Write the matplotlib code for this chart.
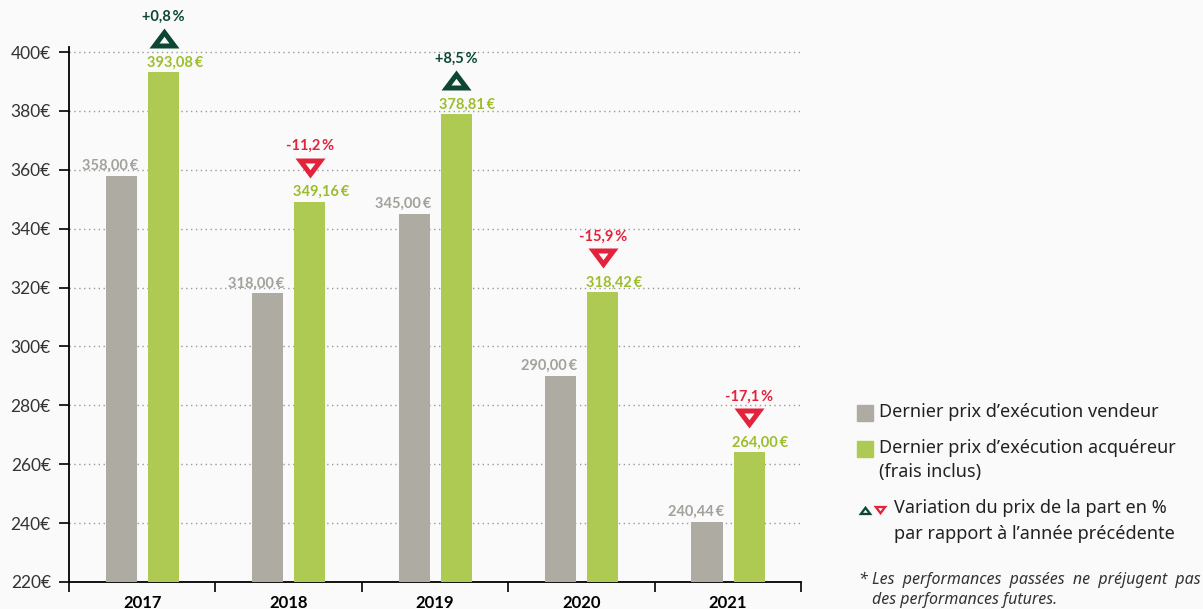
import matplotlib
matplotlib.use('Agg')
from matplotlib import pyplot as plt
from matplotlib.path import Path
from matplotlib.patches import Rectangle
from matplotlib.lines import Line2D
from matplotlib.transforms import offset_copy
import numpy as np

years = ['2017', '2018', '2019', '2020', '2021']
vendeur = [358.00, 318.00, 345.00, 290.00, 240.44]
acquereur = [393.08, 349.16, 378.81, 318.42, 264.00]
variation = [0.8, -11.2, 8.5, -15.9, -17.1]
yticks = [220, 240, 260, 280, 300, 320, 340, 360, 380, 400]

GREY = '#aeaba3'
GREEN = '#afca52'
GREY_TXT = '#a3a19c'
GREEN_TXT = '#9cbd2c'
DARK = '#0d4633'
RED = '#e3223c'
BG = '#fafafa'

plt.rcParams['font.family'] = ['Lato', 'DejaVu Sans']
LEG_FONT = ['Noto Sans', 'DejaVu Sans']


def fmt(v):
  return f'{v:.2f}'.replace('.', ',') + '\u2009€'


def fmt_pct(v):
  s = f'{v:+.1f}'.replace('.', ',')
  return s + '\u2009%'


def tri_marker(up=True):
  # outer triangle with a triangular hole (reversed winding)
  outer = [(-1.5, -1), (1.5, -1), (0, 1), (-1.5, -1)]
  inner = [(-0.5, -0.5), (0, 0.17), (0.5, -0.5), (-0.5, -0.5)]
  verts = outer + inner
  codes = [Path.MOVETO, Path.LINETO, Path.LINETO, Path.CLOSEPOLY] * 2
  if not up:
    verts = [(x, -y) for x, y in verts]
  return Path(verts, codes)


def main():
  fig = plt.figure(figsize=(12.03, 6.09), dpi=100, facecolor=BG)
  ax = fig.add_axes([69 / 1203, 27 / 609, 732 / 1203, 535 / 609])
  ax.set_facecolor(BG)

  x = np.arange(len(years))
  w = 0.212
  ax.bar(x - 0.142, [v - 220 for v in vendeur], w, bottom=220, color=GREY,
         zorder=3)
  ax.bar(x + 0.146, [v - 220 for v in acquereur], w, bottom=220, color=GREEN,
         zorder=3)

  ax.set_xlim(-0.5, 4.5)
  ax.set_ylim(220, 401.7)

  tri_trans = offset_copy(ax.transData, fig=fig, x=0, y=24.5, units='points')
  for i in range(len(years)):
    ax.annotate(fmt(vendeur[i]), (x[i] - 0.142 + w / 2, vendeur[i]),
                xytext=(1, 7), textcoords='offset points', ha='right',
                va='center', color=GREY_TXT, fontsize=10.5, weight='bold')
    ax.annotate(fmt(acquereur[i]), (x[i] + 0.146 - w / 2, acquereur[i]),
                xytext=(-1, 7), textcoords='offset points', ha='left',
                va='center', color=GREEN_TXT, fontsize=10.5, weight='bold')
    up = variation[i] > 0
    col = DARK if up else RED
    ax.plot([x[i] + 0.146], [acquereur[i]], marker=tri_marker(up),
            markersize=21.6, color=col, markeredgewidth=0, clip_on=False,
            zorder=4, transform=tri_trans)
    ax.annotate(fmt_pct(variation[i]), (x[i] + 0.146, acquereur[i]),
                xytext=(0, 40), textcoords='offset points', ha='center',
                va='center', color=col, fontsize=10.5, weight='bold')

  ax.set_yticks(yticks)
  ax.set_yticklabels([f'{t}€' for t in yticks], fontsize=12.5, color='#333333')
  ax.set_xticks(np.arange(-0.5, 5, 1))
  ax.set_xticklabels([])
  ax.set_xticks(x, minor=True)
  ax.set_xticklabels(years, minor=True, fontsize=12, weight='bold')
  ax.tick_params(axis='x', which='minor', length=0, pad=9)
  ax.tick_params(axis='x', which='major', length=7, width=1.2)
  ax.tick_params(axis='y', length=7, width=1.2, pad=6)
  ax.yaxis.grid(True, linestyle=(0, (1, 2.5)), color='#999999', lw=1)
  ax.set_axisbelow(True)
  for s in ['top', 'right']:
    ax.spines[s].set_visible(False)
  for s in ['left', 'bottom']:
    ax.spines[s].set_linewidth(1.3)

  # legend
  def fx(px):
    return px / 1203

  def fy(py):
    return 1 - py / 609

  fig.add_artist(Rectangle((fx(857), fy(421)), 16 / 1203, 16 / 609,
                           transform=fig.transFigure, color=GREY))
  fig.add_artist(Rectangle((fx(857), fy(457)), 16 / 1203, 16 / 609,
                           transform=fig.transFigure, color=GREEN))
  kw = dict(fontsize=13, color='#222222', va='center', ha='left',
            family=LEG_FONT)
  fig.text(fx(879), fy(412), 'Dernier prix d’exécution vendeur', **kw)
  fig.text(fx(879), fy(448), 'Dernier prix d’exécution acquéreur', **kw)
  fig.text(fx(879), fy(472), '(frais inclus)', **kw)
  fig.text(fx(894), fy(508), 'Variation du prix de la part en %', **kw)
  fig.text(fx(894), fy(534), 'par rapport à l’année précédente', **kw)
  fig.add_artist(Line2D([fx(865)], [fy(510)], marker=tri_marker(True),
                        markersize=10, color=DARK, markeredgewidth=0,
                        transform=fig.transFigure))
  fig.add_artist(Line2D([fx(880)], [fy(510)], marker=tri_marker(False),
                        markersize=10, color=RED, markeredgewidth=0,
                        transform=fig.transFigure))
  kw2 = dict(fontsize=11.5, color='#333333', va='center', ha='left',
             style='italic', family=LEG_FONT)
  fig.text(fx(858), fy(580), '*', **kw2)
  fig.text(fx(872), fy(580),
           'Les  performances  passées  ne  préjugent  pas', **kw2)
  fig.text(fx(872), fy(600), 'des performances futures.', **kw2)

  fig.savefig('out.png', dpi=100, facecolor=BG)


if __name__ == '__main__':
  main()
